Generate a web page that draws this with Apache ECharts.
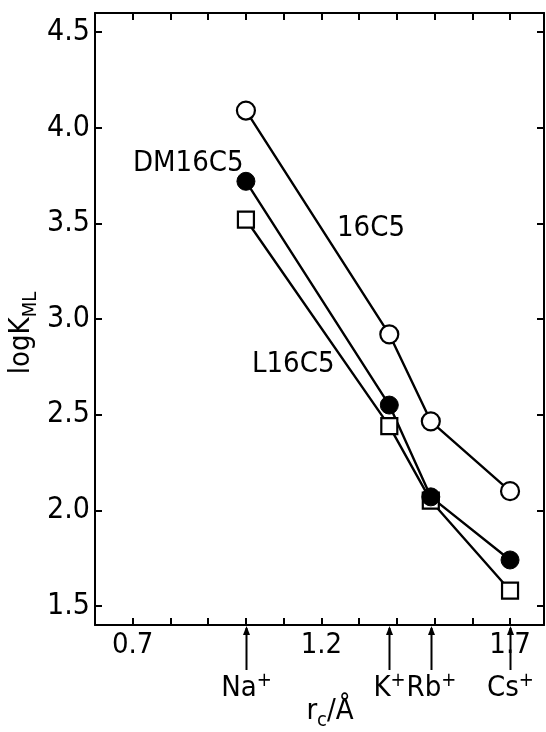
<!DOCTYPE html>
<html>
<head>
<meta charset="utf-8">
<script src="https://cdn.jsdelivr.net/npm/echarts@6/dist/echarts.min.js"></script>
<style>
  html, body { margin: 0; padding: 0; background: #fff; }
  #chart { width: 546px; height: 732px; }
</style>
</head>
<body>
<div id="chart"></div>
<script>
  // ionic radii (Å) of the cations
  const ions = ['Na', 'K', 'Rb', 'Cs']
  const ionRadii = [1.00, 1.38, 1.49, 1.70]

  // log K_ML per crown ether
  const log16C5 = [4.09, 2.92, 2.465, 2.10]
  const logDM16C5 = [3.72, 2.55, 2.07, 1.74]
  const logL16C5 = [3.52, 2.44, 2.05, 1.58]

  // ticks / labels
  const xTicks = [0.7, 0.8, 0.9, 1.0, 1.1, 1.2, 1.3, 1.4, 1.5, 1.6, 1.7]
  const xLabels = [0.7, 1.2, 1.7]
  const yTicks = [1.5, 2.0, 2.5, 3.0, 3.5, 4.0, 4.5]

  const FONT = "'Liberation Sans Narrow', 'DejaVu Sans Condensed', 'Liberation Sans', sans-serif"
  const X_MIN = 0.6, X_MAX = 1.79, Y_MIN = 1.4, Y_MAX = 4.6

  let chart = echarts.init(document.getElementById('chart'))

  const pairs = (ys) => ionRadii.map((r, i) => [r, ys[i]])
  const axisLine = { show: true, onZero: false, lineStyle: { color: '#000', width: 2 } }

  chart.setOption({
    backgroundColor: '#fff',
    animation: false,
    textStyle: { fontFamily: FONT, color: '#000' },
    grid: { left: 95, right: 2, top: 13, bottom: 107 },
    xAxis: [{
      type: 'value', position: 'bottom', min: X_MIN, max: X_MAX,
      axisLine: axisLine,
      splitLine: { show: false },
      axisTick: { inside: true, length: 7, customValues: xTicks, lineStyle: { color: '#000', width: 2 } },
      axisLabel: {
        customValues: xLabels, margin: 6, fontSize: 29, color: '#000', fontFamily: FONT,
        formatter: (v) => v.toFixed(1)
      }
    }, {
      type: 'value', position: 'top', min: X_MIN, max: X_MAX,
      axisLine: axisLine,
      splitLine: { show: false },
      axisTick: { inside: true, length: 7, customValues: xTicks, lineStyle: { color: '#000', width: 2 } },
      axisLabel: { show: false }
    }],
    yAxis: [{
      type: 'value', position: 'left', min: Y_MIN, max: Y_MAX,
      axisLine: axisLine,
      splitLine: { show: false },
      axisTick: { inside: true, length: 7, customValues: yTicks, lineStyle: { color: '#000', width: 2 } },
      axisLabel: {
        customValues: yTicks, margin: 5, fontSize: 30, color: '#000', fontFamily: FONT,
        formatter: (v) => v.toFixed(1)
      }
    }, {
      type: 'value', position: 'right', min: Y_MIN, max: Y_MAX,
      axisLine: axisLine,
      splitLine: { show: false },
      axisTick: { inside: true, length: 7, customValues: yTicks, lineStyle: { color: '#000', width: 2 } },
      axisLabel: { show: false }
    }],
    series: [{
      name: 'L16C5', type: 'line', data: pairs(logL16C5),
      symbol: 'rect', symbolSize: 16,
      lineStyle: { color: '#000', width: 2.4 },
      itemStyle: { color: '#fff', borderColor: '#000', borderWidth: 2.2 }
    }, {
      name: 'DM16C5', type: 'line', data: pairs(logDM16C5),
      symbol: 'circle', symbolSize: 18,
      lineStyle: { color: '#000', width: 2.4 },
      itemStyle: { color: '#000', borderColor: '#000', borderWidth: 1 }
    }, {
      name: '16C5', type: 'line', data: pairs(log16C5),
      symbol: 'circle', symbolSize: 18,
      lineStyle: { color: '#000', width: 2.4 },
      itemStyle: { color: '#fff', borderColor: '#000', borderWidth: 2.2 }
    }, {
      // cation arrows + labels under the axis
      type: 'custom', clip: false, silent: true,
      data: ionRadii.map((r, i) => [r, ions[i]]),
      renderItem: function (params, api) {
        let p = api.coord([api.value(0), Y_MIN])
        let x = Math.round(p[0]) + 0.5, y = p[1]
        return {
          type: 'group',
          children: [{
            type: 'line',
            shape: { x1: x, y1: y + 3, x2: x, y2: y + 45 },
            style: { stroke: '#000', lineWidth: 2 }
          }, {
            type: 'polygon',
            shape: { points: [[x, y + 1], [x - 3.5, y + 10], [x + 3.5, y + 10]] },
            style: { fill: '#000' }
          }, {
            type: 'text',
            x: x, y: y + 46,
            style: {
              text: '{a|' + ions[params.dataIndex] + '}{s|+}',
              align: 'center', verticalAlign: 'top',
              rich: {
                a: { fontSize: 29, fontFamily: FONT, fill: '#000', lineHeight: 32, verticalAlign: 'bottom' },
                s: { fontSize: 20, fontFamily: FONT, fill: '#000', lineHeight: 6, verticalAlign: 'top' }
              }
            }
          }]
        }
      }
    }],
    graphic: [{
      type: 'text', left: 133, top: 149,
      style: { text: 'DM16C5', font: '29px ' + FONT, fill: '#000' }
    }, {
      type: 'text', left: 337, top: 214,
      style: { text: '16C5', font: '29px ' + FONT, fill: '#000' }
    }, {
      type: 'text', left: 252, top: 350,
      style: { text: 'L16C5', font: '29px ' + FONT, fill: '#000' }
    }, {
      type: 'text', x: 24, y: 333, rotation: Math.PI / 2,
      style: {
        text: '{a|logK}{b|ML}', align: 'center', verticalAlign: 'middle',
        rich: {
          a: { fontSize: 29, fontFamily: FONT, fill: '#000', lineHeight: 34, verticalAlign: 'top' },
          b: { fontSize: 20, fontFamily: FONT, fill: '#000', lineHeight: 20, verticalAlign: 'bottom' }
        }
      }
    }, {
      type: 'text', x: 330, y: 714,
      style: {
        text: '{a|r}{b|c}{a|/Å}', align: 'center', verticalAlign: 'middle',
        rich: {
          a: { fontSize: 29, fontFamily: FONT, fill: '#000', lineHeight: 34, verticalAlign: 'top' },
          b: { fontSize: 20, fontFamily: FONT, fill: '#000', lineHeight: 20, verticalAlign: 'bottom' }
        }
      }
    }]
  })
</script>
</body>
</html>
